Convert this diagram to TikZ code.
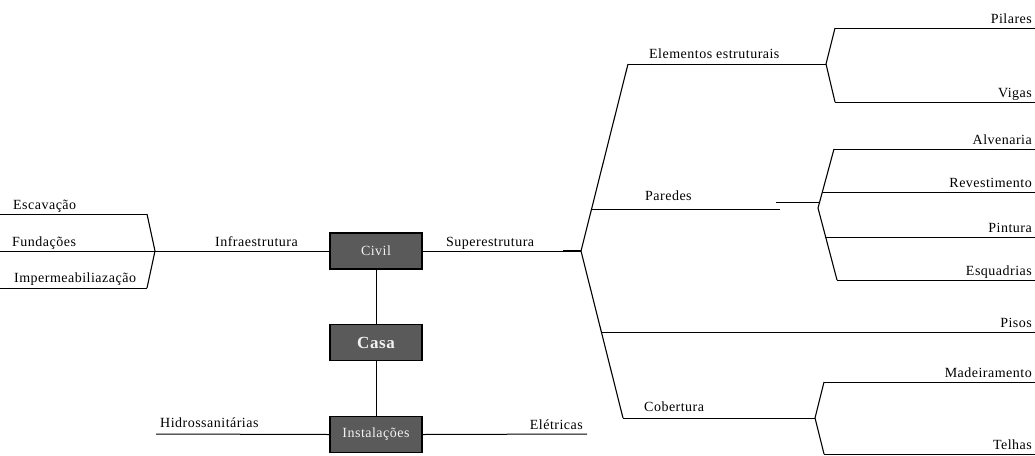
\documentclass[tikz,border=0pt]{standalone}
\usepackage{fontspec}
\setmainfont{Liberation Serif}[LetterSpace=3.5]
\begin{document}
\begin{tikzpicture}[x=1pt,y=-1pt,
  branch/.style={line width=1.1pt, line join=miter},
  leaf/.style={line width=1pt},
  hub/.style={draw=black, line width=1.4pt, fill=boxgray, text=boxtext,
              minimum width=92pt, minimum height=36pt, inner sep=0pt,
              font=\fontsize{14}{16}\selectfont},
  lbl/.style={inner sep=0pt, font=\fontsize{14}{16}\selectfont},
  lblL/.style={lbl, anchor=base west},
  lblR/.style={lbl, anchor=base east}]
\definecolor{boxgray}{HTML}{5A5A5A}
\definecolor{boxtext}{HTML}{F2F2F2}
\useasboundingbox (0,0) rectangle (1035,455);

% central boxes
\node[hub] (civil) at (376,251) {Civil};
\node[hub, font=\fontsize{17}{19}\selectfont\bfseries] (casa) at (376,342.5) {Casa};
\node[hub] (inst) at (376,434.5) {Instalações};
\draw[leaf] (civil) -- (casa);
\draw[leaf] (casa) -- (inst);

% --- infraestrutura (left)
\coordinate (esc0) at (0,214);   \coordinate (esc1) at (147,214);
\coordinate (fun0) at (0,251);   \coordinate (infj) at (155,251);
\coordinate (imp0) at (0,288);   \coordinate (imp1) at (147,288);
\draw[leaf] (esc0) -- (esc1);
\draw[leaf] (fun0) -- (infj);
\draw[leaf] (imp0) -- (imp1);
\draw[branch] (esc1) -- (infj) -- (imp1);
\draw[leaf] (infj) -- (civil.west);
\node[lblL] (tesc) at (13,209) {Escavação};
\node[lblL] (tfun) at (12,246) {Fundações};
\node[lblL] (timp) at (14,282.5) {Impermeabiliazação};
\node[lblL] (tinf) at (215,246) {Infraestrutura};

% --- superestrutura (right)
\coordinate (supk) at (563,251);
\coordinate (supj) at (581,251);
\draw[leaf] (civil.east) -- (supk);
\draw[line width=1.8pt] (supk) -- (supj);
\node[lblL] (tsup) at (446,246.5) {Superestrutura};

\coordinate (elej) at (628,64);
\coordinate (parj) at (592,209);
\coordinate (pisj) at (601,332);
\coordinate (cobj) at (623,418);
\draw[branch] (elej) -- (supj) -- (cobj);

% elementos estruturais
\coordinate (elek) at (826,64);
\coordinate (pil0) at (835,28);  \coordinate (pil1) at (1035,28);
\coordinate (vig0) at (835,102); \coordinate (vig1) at (1035,102);
\draw[leaf] (elej) -- (elek);
\draw[branch] (pil0) -- (elek) -- (vig0);
\draw[leaf] (pil0) -- (pil1);
\draw[leaf] (vig0) -- (vig1);
\node[lblL] (tele) at (649,58) {Elementos estruturais};
\node[lblR] (tpil) at (1032,23) {Pilares};
\node[lblR] (tvig) at (1032,97) {Vigas};

% paredes
\coordinate (park) at (780,209);
\coordinate (parl0) at (776,202); \coordinate (parl1) at (820,202);
\coordinate (parv) at (818,208);
\coordinate (alv0) at (834,149); \coordinate (alv1) at (1035,149);
\coordinate (rev0) at (822,192); \coordinate (rev1) at (1035,192);
\coordinate (pin0) at (826,237); \coordinate (pin1) at (1035,237);
\coordinate (esq0) at (837,280); \coordinate (esq1) at (1035,280);
\draw[leaf] (parj) -- (park);
\draw[leaf] (parl0) -- (parl1);
\draw[branch] (alv0) -- (parv) -- (esq0);
\draw[leaf] (alv0) -- (alv1);
\draw[leaf] (rev0) -- (rev1);
\draw[leaf] (pin0) -- (pin1);
\draw[leaf] (esq0) -- (esq1);
\node[lblL] (tpar) at (645,200) {Paredes};
\node[lblR] (talv) at (1032,144) {Alvenaria};
\node[lblR] (trev) at (1032,187) {Revestimento};
\node[lblR] (tpin) at (1032,232) {Pintura};
\node[lblR] (tesq) at (1032,275) {Esquadrias};

% pisos
\coordinate (pis1) at (1035,332);
\draw[leaf] (pisj) -- (pis1);
\node[lblR] (tpis) at (1032,327) {Pisos};

% cobertura
\coordinate (cobk) at (815,418);
\coordinate (mad0) at (824,382); \coordinate (mad1) at (1035,382);
\coordinate (tel0) at (824,454); \coordinate (tel1) at (1035,454);
\draw[leaf] (cobj) -- (cobk);
\draw[branch] (mad0) -- (cobk) -- (tel0);
\draw[leaf] (mad0) -- (mad1);
\draw[leaf] (tel0) -- (tel1);
\node[lblL] (tcob) at (644,411) {Cobertura};
\node[lblR] (tmad) at (1032,377) {Madeiramento};
\node[lblR] (ttel) at (1032,449) {Telhas};

% --- instalações
\coordinate (hid0) at (156,434);
\coordinate (ele1) at (587,434);
\draw[leaf] (hid0) -- (inst.west);
\draw[leaf] (inst.east) -- (ele1);
\node[lblL] (thid) at (160,427) {Hidrossanitárias};
\node[lblR] (tele2) at (583,429) {Elétricas};
\end{tikzpicture}
\end{document}
